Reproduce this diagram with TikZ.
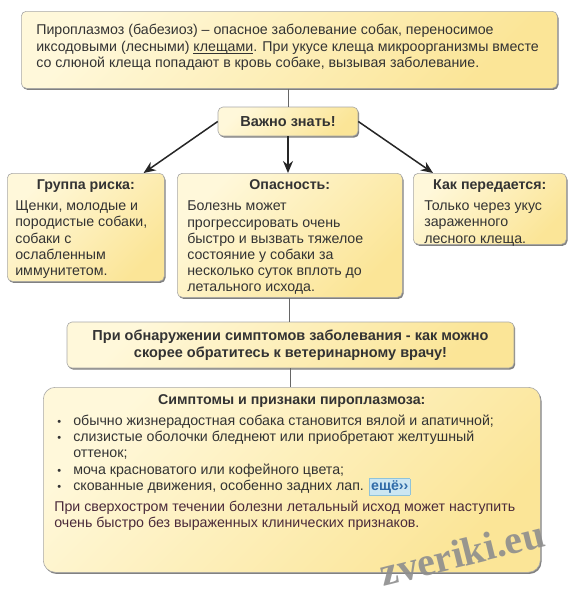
\documentclass[tikz,border=0pt]{standalone}
\usepackage{fontspec}
\setmainfont{Liberation Sans}
\newfontfamily\markfont{Liberation Serif}
\usepackage{xcolor}
\usetikzlibrary{arrows.meta,positioning,calc,shadows}

\definecolor{boxlight}{HTML}{FFF8DA}
\definecolor{boxdark}{HTML}{FBE597}
\definecolor{boxline}{HTML}{A8A8A8}
\definecolor{textgrey}{HTML}{333333}
\definecolor{plum}{HTML}{4A2A3A}
\definecolor{morebg}{HTML}{CBE6F2}
\definecolor{morebd}{HTML}{8FC3DA}
\definecolor{moretx}{HTML}{2F6BA8}
\definecolor{markgrey}{HTML}{8E8E8E}

\newcommand{\bodyfont}{\fontsize{14.2}{16.2}\selectfont}
\newcommand{\dotmark}{\hspace*{3pt}\makebox[16pt][l]{\fontsize{11}{11}\selectfont•}}
\newcommand{\linkword}[1]{\setbox0\hbox{#1}\rlap{\rule[-2pt]{\wd0}{0.8pt}}\box0}

\begin{document}
\begin{tikzpicture}[
    x=1pt, y=-1pt,
    box/.style={draw=boxline, line width=0.6pt, rounded corners=5pt,
        top color=boxlight, bottom color=boxdark, shading angle=45,
        drop shadow={shadow xshift=1.2pt, shadow yshift=-1.6pt, opacity=0.7, fill=black!70},
        text=textgrey, font=\bodyfont, inner sep=0pt},
    heading/.style={box, font=\fontsize{14.5}{17}\selectfont\bfseries, align=center},
    arrow/.style={-{Stealth[length=12pt,width=10pt]}, line width=1.5pt, black!85},
    link/.style={draw=black!60, line width=0.7pt}
]
\fill[white] (0,0) rectangle (579,589);
\useasboundingbox (0,0) rectangle (579,589);

% Intro
\node[box, anchor=north west, inner xsep=15pt, inner ysep=13pt] (intro) at (21,11)
    {\parbox[t][51pt][t]{506pt}{\raggedright\fontsize{14.2}{16.6}\selectfont
    Пироплазмоз (бабезиоз) – опасное заболевание собак, переносимое\\
    иксодовыми (лесными) \linkword{клещами}. При укусе клеща микроорганизмы вместе\\
    со слюной клеща попадают в кровь собаке, вызывая заболевание.}};

% Important
\node[heading, minimum width=140pt, minimum height=29pt] (vazhno) at (288,121.5) {Важно знать!};

% Three branches
\node[box, anchor=north west, inner xsep=8pt, inner ysep=6.5pt] (group) at (7,173)
    {\parbox[t][95pt][t]{141pt}{\centering\bfseries Группа риска:\par\vspace{5pt}
    \raggedright\mdseries
    Щенки, молодые и\\
    породистые собаки,\\
    собаки с\\
    ослабленным\\
    иммунитетом.}};
\node[box, anchor=north west, inner xsep=10pt, inner ysep=6.5pt] (opas) at (177,173)
    {\parbox[t][111pt][t]{205pt}{\centering\bfseries Опасность:\par\vspace{5pt}
    \raggedright\mdseries
    Болезнь может\\
    прогрессировать очень\\
    быстро и вызвать тяжелое\\
    состояние у собаки за\\
    несколько суток вплоть до\\
    летального исхода.}};
\node[box, anchor=north west, inner xsep=11pt, inner ysep=6.5pt] (kak) at (413,173)
    {\parbox[t][58pt][t]{131pt}{\centering\bfseries Как передается:\par\vspace{5pt}
    \raggedright\mdseries
    Только через укус\\
    зараженного\\
    лесного клеща.}};

% Warning
\node[heading, minimum width=447pt, minimum height=46pt] (warn) at (290.5,345)
    {При обнаружении симптомов заболевания - как можно\\скорее обратитесь к ветеринарному врачу!};

% Symptoms
\node[box, rounded corners=12pt, anchor=north west, inner xsep=11pt, inner ysep=7pt] (sympt) at (43,387)
    {\parbox[t][171pt][t]{475pt}{\centering\bfseries Симптомы и признаки пироплазмоза:\par\vspace{5pt}
    \raggedright\mdseries
    \dotmark обычно жизнерадостная собака становится вялой и апатичной;\\
    \dotmark слизистые оболочки бледнеют или приобретают желтушный\\
    \hspace*{19pt}оттенок;\\
    \dotmark моча красноватого или кофейного цвета;\\
    \dotmark скованные движения, особенно задних лап. {\setlength{\fboxsep}{1.5pt}\fcolorbox{morebd}{morebg}{\textcolor{moretx}{\bfseries ещё››}}}\\[5pt]
    \color{plum}При сверхостром течении болезни летальный исход может наступить\\
    очень быстро без выраженных клинических признаков.}};

% Connections
\draw[link] (intro.south -| vazhno.north) -- (vazhno.north);
\draw[arrow] (vazhno.west) -- ($(group.north east)+(-21,0)$);
\draw[arrow] (vazhno.south) -- (vazhno.south |- opas.north);
\draw[arrow] (vazhno.east) -- ($(kak.north west)+(20,0)$);
\draw[link] (opas.south) -- (opas.south |- warn.north);
\draw[link] (warn.south) -- (warn.south |- sympt.north);

% Watermark
\node[rotate=14, inner sep=0pt, text=markgrey, opacity=0.9, font=\markfont\fontsize{40}{40}\selectfont\bfseries] (mark) at (462,553) {zveriki.eu};

\end{tikzpicture}
\end{document}
